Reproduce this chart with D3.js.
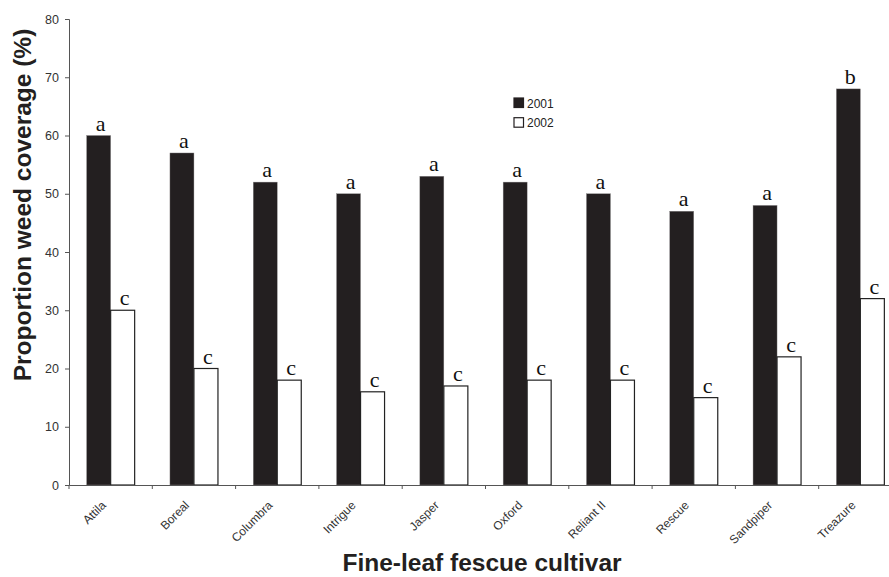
<!DOCTYPE html>
<html><head><meta charset="utf-8">
<script src="https://cdn.jsdelivr.net/npm/d3@7"></script>
<style>body{margin:0;background:#fff;} svg{display:block;}</style>
</head><body>
<svg id="c" width="889" height="577"></svg>
<script>
const cultivars = ["Attila","Boreal","Columbra","Intrigue","Jasper","Oxford","Reliant II","Rescue","Sandpiper","Treazure"];
const years = ["2001","2002"];
const values2001 = [60,57,52,50,53,52,50,47,48,68];
const values2002 = [30,20,18,16,17,18,18,15,22,32];
const letters2001 = ["a","a","a","a","a","a","a","a","a","b"];
const letters2002 = ["c","c","c","c","c","c","c","c","c","c"];
const yTicks = [0,10,20,30,40,50,60,70,80];

(function(){
const svg = d3.select("#c");
const mL = 69, mR = 902, mT = 19, mB = 485;
const x = d3.scaleBand().domain(cultivars).range([mL, mR]).padding(0);
const x1 = d3.scaleBand().domain(years).range([0, x.bandwidth()]).paddingInner(0).paddingOuter(0.735);
const y = d3.scaleLinear().domain([0,80]).range([mB, mT]);
const fills = {"2001":"#231f20","2002":"#ffffff"};
const series = {"2001":values2001,"2002":values2002};
const lets = {"2001":letters2001,"2002":letters2002};

const rows = [];
cultivars.forEach((c,i)=>years.forEach(yr=>rows.push({c, yr, v: series[yr][i], l: lets[yr][i]})));

svg.append("g").selectAll("rect").data(rows).join("rect")
  .attr("x", d=>x(d.c)+x1(d.yr))
  .attr("y", d=>y(d.v))
  .attr("width", x1.bandwidth())
  .attr("height", d=>y(0)-y(d.v))
  .attr("fill", d=>fills[d.yr])
  .attr("stroke", d=>d.yr==="2001"?"#8a8889":"#222")
  .attr("stroke-width", d=>d.yr==="2001"?0.4:1.2);

svg.append("g").selectAll("text").data(rows).join("text")
  .attr("x", d=>x(d.c)+x1(d.yr)+x1.bandwidth()/2 + 2)
  .attr("y", d=>y(d.v)-5)
  .attr("text-anchor","middle")
  .attr("font-family","Liberation Serif, Times New Roman, serif")
  .attr("font-size",22)
  .attr("fill","#111")
  .text(d=>d.l);

// Y axis
const yAxis = svg.append("g").attr("transform",`translate(${mL},0)`)
  .call(d3.axisLeft(y).tickValues(yTicks).tickSize(4).tickPadding(6));
yAxis.select(".domain").attr("stroke","#555");
yAxis.selectAll(".tick line").attr("stroke","#555");
yAxis.selectAll("text").attr("font-family","Liberation Sans, Arial, sans-serif").attr("font-size",12.5).attr("fill","#333");

// X axis
const xAxis = svg.append("g").attr("transform",`translate(0,${mB})`)
  .call(d3.axisBottom(x).tickSize(0).tickPadding(0).tickFormat(""));
xAxis.select(".domain").attr("stroke","#555");
xAxis.selectAll(".tick").remove();
svg.append("g").selectAll("line").data(cultivars).join("line")
  .attr("x1", d=>x(d)).attr("x2", d=>x(d))
  .attr("y1", mB).attr("y2", mB+4)
  .attr("stroke","#555");
svg.append("g").selectAll("text").data(cultivars).join("text")
  .attr("transform", d=>`translate(${x(d)+x.bandwidth()/2-4},${mB+21}) rotate(-45)`)
  .attr("text-anchor","end")
  .attr("font-family","Liberation Sans, Arial, sans-serif")
  .attr("font-size",12)
  .attr("fill","#333")
  .text(d=>d);

// Titles
svg.append("text").attr("x",482).attr("y",571).attr("text-anchor","middle")
  .attr("font-family","Liberation Sans, Arial, sans-serif").attr("font-weight","bold").attr("font-size",24.5)
  .attr("fill","#231f20").text("Fine-leaf fescue cultivar");
svg.append("text").attr("transform","translate(31,205) rotate(-90)").attr("text-anchor","middle")
  .attr("font-family","Liberation Sans, Arial, sans-serif").attr("font-weight","bold").attr("font-size",24.5)
  .attr("fill","#231f20").text("Proportion weed coverage (%)");

// Legend
const lg = svg.append("g").selectAll("g").data(years).join("g")
  .attr("transform",(d,i)=>`translate(514,${98+i*19.7})`);
lg.append("rect").attr("width",9.5).attr("height",9.5)
  .attr("fill",d=>fills[d]).attr("stroke","#231f20").attr("stroke-width",1.2);
lg.append("text").attr("x",13).attr("y",9.5)
  .attr("font-family","Liberation Sans, Arial, sans-serif").attr("font-size",12).attr("fill","#222")
  .text(d=>d);
})();
</script>
</body></html>
